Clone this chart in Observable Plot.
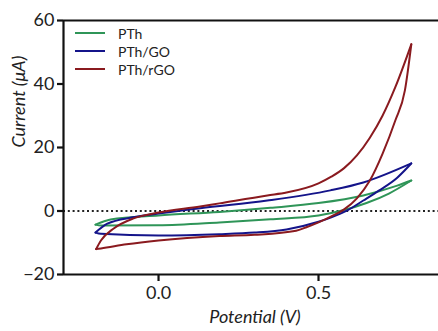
<!DOCTYPE html>
<html>
<head>
<meta charset="utf-8">
<script src="https://cdn.jsdelivr.net/npm/d3@7"></script>
<script src="https://cdn.jsdelivr.net/npm/@observablehq/plot@0.6"></script>
<style>
  html, body { margin: 0; padding: 0; background: #fff; }
  #wrap { position: relative; width: 438px; height: 331px; font-family: Lato, "Open Sans", sans-serif; }
  #legend { position: absolute; left: 75px; top: 24px; font-size: 14px; color: #222; }
  .row { display: flex; align-items: center; height: 18px; }
  .sw { width: 30px; height: 2.5px; margin-right: 13px; }
</style>
</head>
<body>
<div id="wrap"><div id="legend"></div></div>
<script>
const seriesNames = ["PTh", "PTh/GO", "PTh/rGO"];
const seriesColors = ["#2f9558", "#14148a", "#8a1a1f"];

// PTh
const pthUpperV = [-0.197, -0.15, 0, 0.19, 0.35, 0.5, 0.64, 0.746, 0.79];
const pthUpperI = [-4.3, -2.7, -1.4, -0.3, 1.0, 2.5, 4.9, 8.0, 9.6];
const pthLowerV = [-0.197, -0.18, 0, 0.19, 0.35, 0.5, 0.58, 0.65, 0.72, 0.79];
const pthLowerI = [-4.3, -4.6, -4.5, -3.6, -2.6, -1.4, 0.3, 2.5, 5.5, 9.6];
// PTh/GO
const goUpperV = [-0.197, -0.16, -0.08, 0, 0.13, 0.34, 0.537, 0.64, 0.79];
const goUpperI = [-6.8, -4, -2, -0.8, 0.9, 3.3, 6.5, 9, 15];
const goLowerV = [-0.197, -0.18, 0, 0.19, 0.3, 0.4, 0.5, 0.54, 0.59, 0.64, 0.69, 0.746, 0.778, 0.79];
const goLowerI = [-6.8, -7.2, -7.7, -7.3, -6.8, -5.8, -3.4, -2, 0.2, 3.3, 6.5, 10.5, 13.7, 15];
// PTh/rGO
const rgoUpperV = [-0.195, -0.18, -0.14, -0.08, 0, 0.13, 0.19, 0.34, 0.40, 0.5, 0.54, 0.58, 0.62, 0.66, 0.7, 0.74, 0.79];
const rgoUpperI = [-12, -9.3, -5.5, -2.4, -0.5, 1.4, 2.4, 4.9, 5.8, 8.7, 10.8, 13.5, 17.5, 23, 30, 39, 52.5];
const rgoLowerV = [-0.195, -0.18, -0.1, 0, 0.19, 0.3, 0.43, 0.46, 0.5, 0.54, 0.58, 0.62, 0.66, 0.7, 0.74, 0.77, 0.79];
const rgoLowerI = [-12, -11.8, -10.5, -9.3, -7.9, -7.5, -6.2, -5.2, -3.6, -1.7, 0.5, 4, 9.5, 18, 28.5, 38, 52.5];

const xTicks = [0, 0.5];
const yTicks = [-20, 0, 20, 40, 60];
const xDomain = [-0.297, 0.875];
const yDomain = [-20, 60];

const branches = [
  ["PTh", "up", pthUpperV, pthUpperI], ["PTh", "down", pthLowerV, pthLowerI],
  ["PTh/GO", "up", goUpperV, goUpperI], ["PTh/GO", "down", goLowerV, goLowerI],
  ["PTh/rGO", "up", rgoUpperV, rgoUpperI], ["PTh/rGO", "down", rgoLowerV, rgoLowerI]
];
const data = branches.flatMap(([s, b, V, I]) => V.map((v, i) => ({series: s, key: s + b, V: v, I: I[i]})));

const chart = Plot.plot({
  width: 438, height: 331,
  marginLeft: 63, marginRight: 0, marginTop: 20, marginBottom: 57,
  style: {fontFamily: "Lato, 'Open Sans', sans-serif", color: "#222", background: "#fff"},
  x: {domain: xDomain},
  y: {domain: yDomain},
  color: {domain: seriesNames, range: seriesColors},
  marks: [
    Plot.ruleY([0], {stroke: "#222", strokeWidth: 2.2, strokeDasharray: "2,2.8"}),
    Plot.line(data, {x: "V", y: "I", z: "key", stroke: "series", strokeWidth: 2, curve: "monotone-x"}),
    Plot.ruleX([xDomain[0]], {stroke: "#111", strokeWidth: 2.2}),
    Plot.ruleY([yDomain[0], yDomain[1]], {stroke: "#111", strokeWidth: 2.2}),
    Plot.axisY({ticks: yTicks, tickSize: 6, tickPadding: 3, strokeWidth: 2.2, stroke: "#111", fontSize: 18, label: null, fill: "#222"}),
    Plot.axisX({ticks: xTicks, tickSize: 7, tickPadding: 5, strokeWidth: 2.2, stroke: "#111", fontSize: 18, tickFormat: d3.format(".1f"), label: null, fill: "#222"}),
    Plot.text(["Potential (V)"], {frameAnchor: "bottom", dx: 4, dy: 48, fontSize: 18, fontStyle: "italic", fill: "#222"}),
    Plot.text(["Current (μA)"], {frameAnchor: "left", rotate: -90, dx: -44, dy: 0, fontSize: 18, fontStyle: "italic", fill: "#222"})
  ]
});
document.getElementById("wrap").prepend(chart);

const legend = document.getElementById("legend");
seriesNames.forEach((n, i) => {
  const row = document.createElement("div");
  row.className = "row";
  const sw = document.createElement("div");
  sw.className = "sw";
  sw.style.background = seriesColors[i];
  const t = document.createElement("span");
  t.textContent = n;
  row.append(sw, t);
  legend.append(row);
});
</script>
</body>
</html>
